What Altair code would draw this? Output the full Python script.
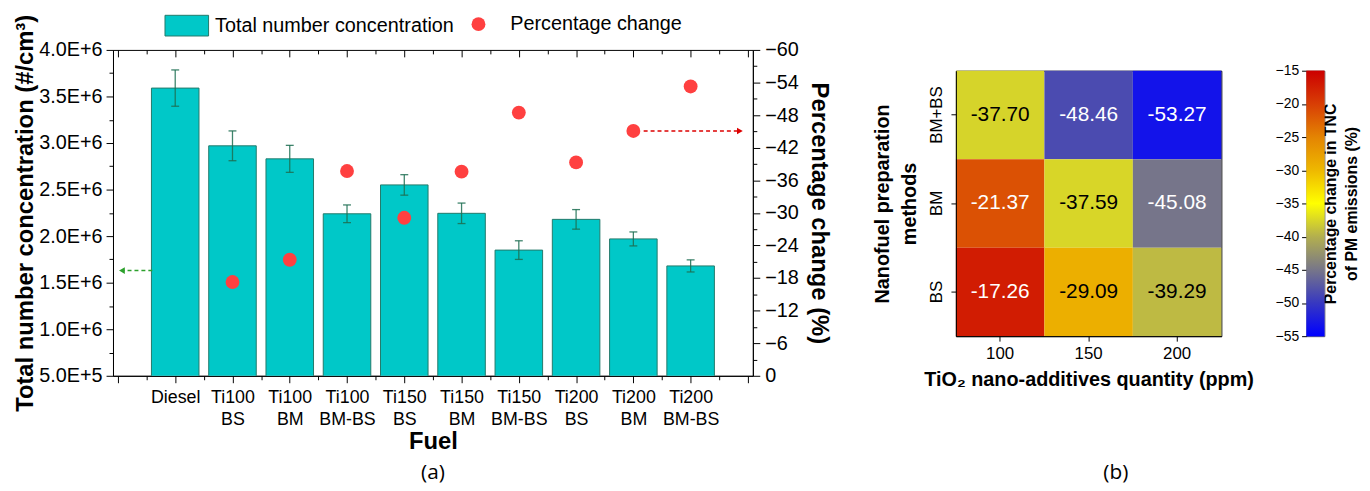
import altair as alt
import pandas as pd

FONT = "Liberation Sans"

# ---------------- data: panel (a) ----------------
fuels = ["Diesel", "Ti100\nBS", "Ti100\nBM", "Ti100\nBM-BS", "Ti150\nBS", "Ti150\nBM",
         "Ti150\nBM-BS", "Ti200\nBS", "Ti200\nBM", "Ti200\nBM-BS"]
fuel_pos = [1, 2, 3, 4, 5, 6, 7, 8, 9, 10]
tnc = [3.59e6, 2.97e6, 2.83e6, 2.24e6, 2.55e6, 2.245e6, 1.85e6, 2.18e6, 1.97e6, 1.68e6]
tnc_err = [0.195e6, 0.16e6, 0.145e6, 0.095e6, 0.11e6, 0.11e6, 0.10e6, 0.105e6, 0.075e6, 0.065e6]
pct_change = [None, -17.26, -21.37, -37.70, -29.09, -37.59, -48.46, -39.29, -45.08, -53.27]

left_major_ticks = [5e5, 1.0e6, 1.5e6, 2.0e6, 2.5e6, 3.0e6, 3.5e6, 4.0e6]
right_major_ticks = [0, -6, -12, -18, -24, -30, -36, -42, -48, -54, -60]
series_names = ["Total number concentration", "Percentage change"]

# annotation arrows (data coordinates)
green_arrow_x = [0.6, 0.07]
green_arrow_y = [1.63e6]
red_arrow_x = [9.18, 10.86]
red_arrow_y = [-45.08]

# ---------------- data: panel (b) ----------------
quantities = ["100", "150", "200"]
methods = ["BM+BS", "BM", "BS"]
row_bmbs = [-37.70, -48.46, -53.27]
row_bm = [-21.37, -37.59, -45.08]
row_bs = [-17.26, -29.09, -39.29]
cbar_ticks = [-55, -50, -45, -40, -35, -30, -25, -20, -15]
cmap_colors = ["#0000ff", "#3738c1", "#777689", "#b3af4e", "#ffff00",
               "#eeb800", "#e48402", "#d83e05", "#cc0000"]
cbar_title = ["Percentage change in TNC", "of PM emissions (%)"]

# ---------------- tables ----------------
df = pd.DataFrame({"pos": fuel_pos, "tnc": tnc, "err": tnc_err})
df["lo"] = df["tnc"] - df["err"]
df["hi"] = df["tnc"] + df["err"]
df["series"] = series_names[0]

pts = pd.DataFrame({"pos": fuel_pos, "pct": pct_change}).dropna()
pts["series"] = series_names[1]

def half_steps(lo, hi, step):
    out, v = [], lo
    while v <= hi + 1e-9:
        out.append(round(v, 6))
        v += step
    return out

left_ticks = half_steps(left_major_ticks[0], left_major_ticks[-1], 2.5e5)
right_ticks = [-v for v in half_steps(0, 60, 3)]
x_major = half_steps(0, 11, 1)
x_minor = half_steps(0.5, 10.5, 1)
x_all = half_steps(0, 11, 0.5)

# x label expression built from the fuel list
expr = "''"
for p, f in reversed(list(zip(fuel_pos, fuels))):
    arr = "[" + ",".join("'%s'" % s for s in f.split("\n")) + "]"
    expr = "datum.value === %d ? %s : (%s)" % (p, arr, expr)

xs = alt.Scale(domain=[0, 11], nice=False, zero=False)
yl = alt.Scale(domain=[5e5, 4e6], nice=False, zero=False)
yr = alt.Scale(domain=[0, -60], nice=False, zero=False)

bottom_axis = alt.Axis(
    values=x_all, labelExpr=expr, title="Fuel", orient="bottom",
    tickSize={"condition": {"test": "datum.value % 1 === 0", "value": 7}, "value": 4},
    labelFontSize=18, labelLineHeight=22, labelPadding=6, labelBaseline="top",
    titleFontSize=24, titleFontWeight="bold", titlePadding=1, labelAngle=0,
)
top_major_axis = alt.Axis(values=x_major, orient="top", labels=False, domain=False,
                          tickSize=7, offset=-7, title=None)
top_minor_axis = alt.Axis(values=x_minor, orient="top", labels=False, domain=False,
                          tickSize=4, offset=-4, title=None)

left_axis = alt.Axis(
    values=left_ticks, orient="left", title="Total number concentration (#/cm³)",
    labelExpr="datum.value % 500000 === 0 ? (datum.value >= 1000000 ? format(datum.value/1000000, '.1f') + 'E+6' : format(datum.value/100000, '.1f') + 'E+5') : ''",
    tickSize={"condition": {"test": "datum.value % 500000 === 0", "value": 7}, "value": 4},
    labelFontSize=20, labelPadding=4, titleFontSize=24, titleFontWeight="bold", titlePadding=1,
)
right_axis = alt.Axis(
    values=right_ticks, orient="right", title="Percentage change (%)",
    labelExpr="datum.value % 6 === 0 ? datum.label : ''",
    tickSize={"condition": {"test": "datum.value % 6 === 0", "value": 7}, "value": 4},
    labelFontSize=20, labelPadding=5, titleFontSize=24, titleFontWeight="bold", titlePadding=8,
)

# wide rectangle symbol (44 x 21 px at symbolSize 484)
rect_path = "M -2 -0.95 H 2 V 0.95 H -2 Z"

legend_bar = alt.Legend(
    orient="none", legendX=63, legendY=-36, title=None, symbolType=rect_path,
    symbolSize=484, symbolStrokeColor="#23796a", symbolStrokeWidth=1,
    labelFontSize=20, labelFont=FONT, labelOffset=17, labelLimit=600,
)
legend_pt = alt.Legend(
    orient="none", legendX=359, legendY=-36, title=None, symbolType="circle",
    symbolSize=196, symbolStrokeWidth=0, labelFontSize=20, labelFont=FONT,
    labelOffset=22, labelLimit=600,
)

bars = alt.Chart(df).mark_bar(size=48, stroke="#23796a", strokeWidth=1, clip=True).encode(
    x=alt.X("pos:Q", scale=xs, axis=bottom_axis),
    y=alt.Y("tnc:Q", scale=yl, axis=left_axis),
    fill=alt.Fill("series:N", scale=alt.Scale(domain=[series_names[0]], range=["#00c8c8"]),
                  legend=legend_bar),
)
errs = alt.Chart(df).mark_errorbar(
    ticks={"size": 8, "color": "#1d6e52"}, color="#1d6e52", thickness=1.3, opacity=0.85
).encode(
    x=alt.X("pos:Q", scale=xs, axis=top_major_axis),
    y=alt.Y("lo:Q", scale=yl, axis=None),
    y2="hi:Q",
)

garrow = pd.DataFrame({"x1": [green_arrow_x[0]], "x2": [green_arrow_x[1]], "y": green_arrow_y})
g_rule = alt.Chart(garrow).mark_rule(color="#2ca02c", strokeDash=[4, 3], strokeWidth=1.5).encode(
    x=alt.X("x1:Q", scale=xs, axis=top_minor_axis), x2="x2:Q",
    y=alt.Y("y:Q", scale=yl, axis=None),
)
g_head = alt.Chart(garrow).mark_point(shape="triangle-left", filled=True, size=45,
                                      color="#2ca02c", opacity=1).encode(
    x=alt.X("x2:Q", scale=xs, axis=None),
    y=alt.Y("y:Q", scale=yl, axis=None),
)

points = alt.Chart(pts).mark_point(filled=True, shape="circle", size=196, opacity=1).encode(
    x=alt.X("pos:Q", scale=xs, axis=None),
    y=alt.Y("pct:Q", scale=yr, axis=right_axis),
    color=alt.Color("series:N", scale=alt.Scale(domain=[series_names[1]], range=["#ff4040"]),
                    legend=legend_pt),
)

rarrow = pd.DataFrame({"x1": [red_arrow_x[0]], "x2": [red_arrow_x[1]], "y": red_arrow_y})
r_rule = alt.Chart(rarrow).mark_rule(color="#dd0000", strokeDash=[4, 3], strokeWidth=1.5).encode(
    x=alt.X("x1:Q", scale=xs, axis=None), x2="x2:Q",
    y=alt.Y("y:Q", scale=yr, axis=None),
)
r_head = alt.Chart(rarrow).mark_point(shape="triangle-right", filled=True, size=45,
                                      color="#dd0000", opacity=1).encode(
    x=alt.X("x2:Q", scale=xs, axis=None),
    y=alt.Y("y:Q", scale=yr, axis=None),
)

left = alt.layer(bars, errs, g_rule, g_head, points, r_rule, r_head).resolve_scale(
    y="independent"
).resolve_axis(x="independent", y="independent").properties(
    width=646, height=329,
    title=alt.TitleParams("(a)", orient="bottom", fontSize=21, font="Open Sans",
                          fontWeight="normal", offset=9, anchor="middle"),
)

# ---------------- panel (b) heatmap ----------------
rows = []
for m, vals in zip(methods, [row_bmbs, row_bm, row_bs]):
    for q, v in zip(quantities, vals):
        rows.append({"q": q, "m": m, "v": v, "lab": "%.2f" % v})
hdf = pd.DataFrame(rows)

hx = alt.X("q:O", sort=quantities, scale=alt.Scale(paddingInner=0, paddingOuter=0),
           axis=alt.Axis(title="TiO₂ nano-additives quantity (ppm)", labelAngle=0,
                         labelFontSize=17, tickSize=5, labelPadding=5,
                         titleFontSize=20, titleFontWeight="bold", titlePadding=8))
hy = alt.Y("m:O", sort=methods, scale=alt.Scale(paddingInner=0, paddingOuter=0),
           axis=alt.Axis(title=["Nanofuel preparation", "methods"], labelAngle=270,
                         labelAlign="center", labelBaseline="bottom",
                         labelFontSize=17, tickSize=5, labelPadding=6,
                         titleFontSize=20, titleFontWeight="bold", titlePadding=8,
                         titleLineHeight=27))

cscale = alt.Scale(domain=cbar_ticks, range=cmap_colors, interpolate="rgb")
hrect = alt.Chart(hdf).mark_rect().encode(
    x=hx, y=hy, color=alt.Color("v:Q", scale=cscale, legend=None),
)
htext = alt.Chart(hdf).mark_text(fontSize=21, font=FONT).encode(
    x=hx, y=hy, text="lab:N",
    color=alt.condition("datum.v < -42 || datum.v > -25", alt.value("white"), alt.value("black")),
)
heat = alt.layer(hrect, htext).properties(width=268, height=268)

# ---------------- colour bar ----------------
cmin, cmax = cbar_ticks[0], cbar_ticks[-1]
grad = alt.LinearGradient(
    gradient="linear", x1=0, x2=0, y1=1, y2=0,
    stops=[alt.GradientStop(color=c, offset=(v - cmin) / (cmax - cmin))
           for v, c in zip(cbar_ticks, cmap_colors)],
)
cdf = pd.DataFrame({"lo": [cmin], "hi": [cmax], "x0": [0], "x1": [1]})
cy = alt.Scale(domain=[cmin, cmax], nice=False, zero=False)
cx = alt.Scale(domain=[0, 1], nice=False, zero=False)
cbar_main = alt.Chart(cdf).mark_rect(fill=grad).encode(
    x=alt.X("x0:Q", scale=cx, axis=None), x2="x1:Q",
    y=alt.Y("lo:Q", scale=cy, axis=alt.Axis(orient="left", values=cbar_ticks, labelFontSize=14,
                                            tickSize=5, labelPadding=3, title=None,
                                            domain=False)),
    y2="hi:Q",
)
cbar_ttl = alt.Chart(cdf).mark_rect(fill=grad).encode(
    x=alt.X("x0:Q", scale=cx, axis=None), x2="x1:Q",
    y=alt.Y("lo:Q", scale=cy, axis=alt.Axis(orient="right", labels=False, ticks=False,
                                            domain=False, title=cbar_title, titleAngle=270,
                                            titleAlign="center", titleBaseline="top",
                                            titleFontSize=16, titleFontWeight="bold",
                                            titleLineHeight=21, titleX=-2, titleY=134)),
    y2="hi:Q",
)
cbar = alt.layer(cbar_main, cbar_ttl).resolve_axis(y="independent").properties(
    width=18, height=268, view=alt.ViewBackground(stroke="#555555", strokeWidth=1),
)

spacer = alt.Chart(cdf).mark_point(opacity=0).encode(
    x=alt.X("x0:Q", scale=cx, axis=None), y=alt.Y("x0:Q", scale=cx, axis=None),
).properties(width=1, height=1, view=alt.ViewBackground(stroke="transparent"))

heat_row = alt.hconcat(heat, cbar, spacing=86).properties(bounds="flush")
panel_b = alt.vconcat(spacer, heat_row, spacing=8).properties(
    title=alt.TitleParams("(b)", orient="bottom", fontSize=21, font="Open Sans",
                          fontWeight="normal", offset=73, anchor="middle"),
)

chart = alt.hconcat(left, panel_b, spacing=41).properties(
    padding={"left": 5, "top": 3, "right": 2, "bottom": 5}
).configure_view(stroke="black", strokeWidth=1).configure_axis(
    labelFont=FONT, titleFont=FONT, labelColor="black", titleColor="black",
    domainColor="black", tickColor="black", grid=False, domainWidth=1, tickWidth=1,
).configure_legend(labelFont=FONT, titleFont=FONT, labelColor="black", titleColor="black")

chart.save("out.html", embed_options={"renderer": "svg", "actions": False})
